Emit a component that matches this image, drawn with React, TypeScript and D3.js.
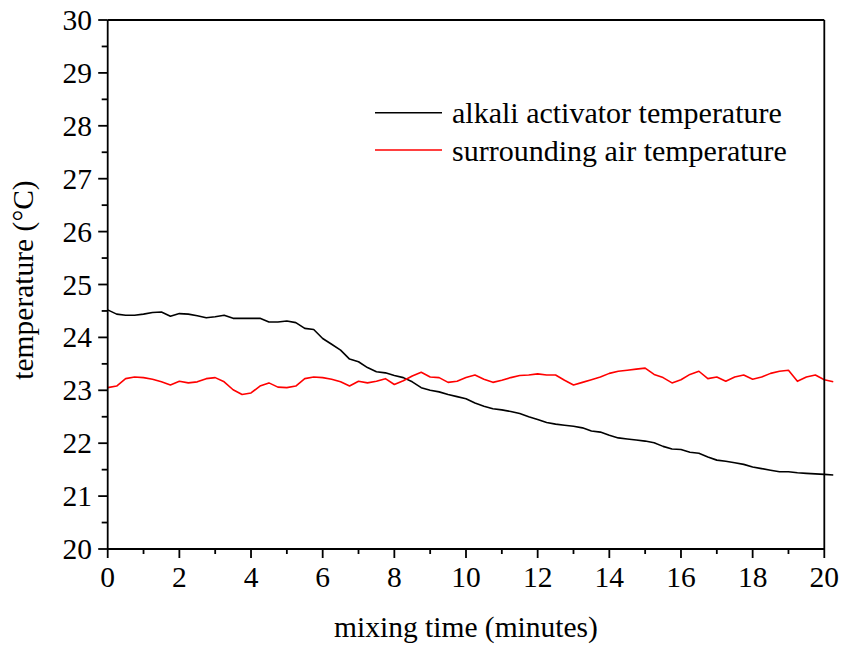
import React from "react";
import * as d3 from "d3";

// Sampling times (minutes)
const times: number[] = [
  0, 0.25, 0.5, 0.75, 1, 1.25, 1.5, 1.75, 2, 2.25, 2.5, 2.75, 3, 3.25, 3.5, 3.75,
  4, 4.25, 4.5, 4.75, 5, 5.25, 5.5, 5.75, 6, 6.25, 6.5, 6.75, 7, 7.25, 7.5, 7.75,
  8, 8.25, 8.5, 8.75, 9, 9.25, 9.5, 9.75, 10, 10.25, 10.5, 10.75, 11, 11.25, 11.5, 11.75,
  12, 12.25, 12.5, 12.75, 13, 13.25, 13.5, 13.75, 14, 14.25, 14.5, 14.75, 15, 15.25, 15.5, 15.75,
  16, 16.25, 16.5, 16.75, 17, 17.25, 17.5, 17.75, 18, 18.25, 18.5, 18.75, 19, 19.25, 19.5, 19.75,
  20, 20.25,
];

// Alkali activator temperature (°C)
const activatorTemp: number[] = [
  24.52, 24.44, 24.42, 24.42, 24.44, 24.47, 24.48, 24.40, 24.45, 24.44, 24.41, 24.37, 24.39, 24.42, 24.36, 24.36,
  24.36, 24.36, 24.29, 24.29, 24.31, 24.28, 24.17, 24.15, 23.98, 23.87, 23.76, 23.59, 23.54, 23.43, 23.35, 23.33,
  23.28, 23.24, 23.16, 23.05, 23.00, 22.97, 22.92, 22.88, 22.84, 22.76, 22.70, 22.65, 22.63, 22.60, 22.56, 22.50,
  22.45, 22.39, 22.36, 22.34, 22.32, 22.29, 22.23, 22.21, 22.15, 22.10, 22.08, 22.06, 22.04, 22.01, 21.94, 21.89,
  21.88, 21.83, 21.81, 21.74, 21.68, 21.66, 21.63, 21.60, 21.55, 21.52, 21.49, 21.46, 21.46, 21.44, 21.43, 21.42,
  21.41, 21.40,
];

// Surrounding air temperature (°C)
const airTemp: number[] = [
  23.05, 23.08, 23.22, 23.25, 23.24, 23.21, 23.16, 23.10, 23.17, 23.14, 23.16, 23.22, 23.24, 23.16, 23.01, 22.92,
  22.95, 23.08, 23.14, 23.06, 23.05, 23.08, 23.22, 23.25, 23.24, 23.21, 23.16, 23.08, 23.17, 23.14, 23.17, 23.22,
  23.11, 23.18, 23.27, 23.34, 23.25, 23.24, 23.15, 23.17, 23.24, 23.29, 23.21, 23.15, 23.19, 23.24, 23.28, 23.29,
  23.31, 23.29, 23.29, 23.19, 23.10, 23.15, 23.20, 23.25, 23.32, 23.36, 23.38, 23.40, 23.42, 23.30, 23.24, 23.14,
  23.20, 23.30, 23.36, 23.22, 23.25, 23.17, 23.25, 23.29, 23.21, 23.25, 23.32, 23.36, 23.38, 23.17, 23.25, 23.29,
  23.20, 23.16,
];

const seriesNames: string[] = ["alkali activator temperature", "surrounding air temperature"];
const seriesColors: string[] = ["#000000", "#ff0000"];

const xTicks: number[] = [0, 2, 4, 6, 8, 10, 12, 14, 16, 18, 20];
const yTicks: number[] = [20, 21, 22, 23, 24, 25, 26, 27, 28, 29, 30];

const W = 844;
const H = 653;
const FONT = "'Liberation Serif', 'Times New Roman', serif";
const FS = 29.5;
const LEGEND_FS = 30;

export default function App() {
  const left = 107.7;
  const right = 824.3;
  const top = 20;
  const bottom = 549;

  const x = d3.scaleLinear().domain([0, 20]).range([left, right]);
  const y = d3.scaleLinear().domain([20, 30]).range([bottom, top]);

  const line = d3
    .line<[number, number]>()
    .x((d) => x(d[0]))
    .y((d) => y(d[1]));

  const seriesData = [activatorTemp, airTemp].map((vals) =>
    vals.map((v, i) => [times[i], v] as [number, number])
  );

  const xMinor = d3.range(1, 20, 2);
  const yMinor = d3.range(20.5, 30, 1);

  return (
    <svg
      width={W}
      height={H}
      style={{ position: "absolute", left: 0, top: 0, background: "#fff" }}
      fontFamily={FONT}
    >
      <rect x={0} y={0} width={W} height={H} fill="#fff" />

      {/* data lines */}
      {seriesData.map((d, i) => (
        <path
          key={seriesNames[i]}
          d={line(d) ?? ""}
          fill="none"
          stroke={seriesColors[i]}
          strokeWidth={1.6}
          strokeLinejoin="round"
        />
      ))}

      {/* frame */}
      <line x1={left} x2={right} y1={top} y2={top} stroke="#000" strokeWidth={1.8} />
      <line x1={right} x2={right} y1={top} y2={bottom} stroke="#000" strokeWidth={1.8} />
      <line x1={left} x2={left} y1={top} y2={bottom} stroke="#000" strokeWidth={1.8} />
      <line x1={left} x2={right} y1={bottom} y2={bottom} stroke="#000" strokeWidth={1.8} />

      {/* x ticks */}
      {xTicks.map((t) => (
        <g key={"xt" + t}>
          <line x1={x(t)} x2={x(t)} y1={bottom} y2={bottom + 9} stroke="#000" strokeWidth={1.8} />
          <text x={x(t)} y={587} textAnchor="middle" fontSize={FS} fill="#000">
            {t}
          </text>
        </g>
      ))}
      {xMinor.map((t) => (
        <line key={"xm" + t} x1={x(t)} x2={x(t)} y1={bottom} y2={bottom + 5} stroke="#000" strokeWidth={1.8} />
      ))}

      {/* y ticks */}
      {yTicks.map((t) => (
        <g key={"yt" + t}>
          <line x1={left - 9.5} x2={left} y1={y(t)} y2={y(t)} stroke="#000" strokeWidth={1.8} />
          <text x={92} y={y(t) + 10} textAnchor="end" fontSize={FS} fill="#000">
            {t}
          </text>
        </g>
      ))}
      {yMinor.map((t) => (
        <line key={"ym" + t} x1={left - 6} x2={left} y1={y(t)} y2={y(t)} stroke="#000" strokeWidth={1.8} />
      ))}

      {/* axis titles */}
      <text x={466} y={637} textAnchor="middle" fontSize={FS} fill="#000">
        mixing time (minutes)
      </text>
      <text
        transform="translate(33,280) rotate(-90)"
        textAnchor="middle"
        fontSize={FS}
        fill="#000"
      >
        temperature (°C)
      </text>

      {/* legend */}
      {seriesNames.map((name, i) => {
        const ly = 112.7 + i * 37.3;
        return (
          <g key={"lg" + i}>
            <line x1={375} x2={442} y1={ly} y2={ly} stroke={seriesColors[i]} strokeWidth={1.6} />
            <text x={452} y={ly + 10.5} fontSize={LEGEND_FS} fill="#000">
              {name}
            </text>
          </g>
        );
      })}
    </svg>
  );
}
